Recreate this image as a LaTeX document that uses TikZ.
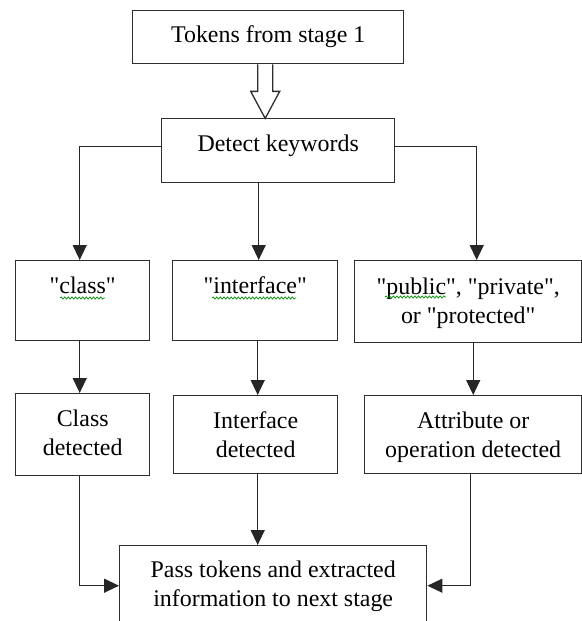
\documentclass[tikz,border=0pt]{standalone}
\usepackage{fontspec}
\setmainfont{Liberation Serif}[Ligatures=TeXOff]
\usetikzlibrary{arrows.meta,decorations.pathmorphing}

% a framed box given by its top-left and bottom-right corners (y grows downward)
\newcommand\flowbox[5]{%
  \node[box, minimum width={(#4-#2)*1bp}, minimum height={(#5-#3)*1bp}] (#1) at (#2,#3) {};}

\begin{document}
\begin{tikzpicture}[x=1bp,y=-1bp,
  box/.style={draw=black!82, line width=1.4bp, fill=white, inner sep=0pt, anchor=north west},
  txt/.style={anchor=base, align=center, inner sep=0pt, text=black,
              font=\fontsize{24}{29}\selectfont},
  flow/.style={draw=black!85, line width=1.3bp, -{Triangle[width=14bp,length=15bp]}},
  hollow/.style={draw=black!82, line width=1.3bp, fill=white, line join=miter},
  spell/.style={draw=green!55!black, line width=0.7bp, decorate,
                decoration={snake, amplitude=1.1bp, segment length=3.6bp}}]

\useasboundingbox (0,0) rectangle (582,621);
\clip (0,0) rectangle (582,621);

% boxes
\flowbox{src}{132}{10}{403}{63}
\flowbox{det}{161}{118}{394}{182}
\flowbox{cls}{15}{260}{149}{340}
\flowbox{ifc}{172}{260}{337}{340}
\flowbox{pub}{354}{260}{581}{342}
\flowbox{clsd}{15}{393}{149}{475}
\flowbox{ifcd}{173}{395}{337}{473}
\flowbox{attr}{364}{395}{581}{473}
\flowbox{fin}{119}{545}{426}{625}

% box texts; the base anchor sits on the last line, 29bp per line
\node[txt] (src-t)  at ([yshift=-33bp]src.north)  {Tokens from stage 1};
\node[txt] (det-t)  at ([yshift=-33bp]det.north)  {Detect keywords};
\node[txt] (cls-t)  at ([yshift=-33bp]cls.north)  {"class"};
\node[txt] (ifc-t)  at ([yshift=-33bp]ifc.north)  {"interface"};
\node[txt] (pub-t)  at ([yshift=-63bp]pub.north)  {"public", "private",\\or "protected"};
\node[txt] (clsd-t) at ([yshift=-62bp]clsd.north) {Class\\detected};
\node[txt] (ifcd-t) at ([yshift=-62bp]ifcd.north) {Interface\\detected};
\node[txt] (attr-t) at ([yshift=-62bp]attr.north) {Attribute or\\operation detected};
\node[txt] (fin-t)  at ([yshift=-61bp]fin.north)  {Pass tokens and extracted\\information to next stage};

% spell-checker underlines
\draw[spell] (60,298) -- (105,298);
\draw[spell] (212,298) -- (296,298);
\draw[spell] (385,297) -- (446,297);

% hollow block arrow from the first stage
\draw[hollow] ([xshift=-10.5bp]src.south) -- ++(0,27) -- ++(-7,0) -- ++(14.5,27)
  -- ++(14.5,-27) -- ++(-7,0) -- ++(0,-27);

% branches out of the keyword detector
\draw[flow] ([yshift=4bp]det.west) -| ([xshift=-3bp]cls.north);
\draw[flow] ([xshift=3.5bp]ifc.north |- det.south) -- ([xshift=3.5bp]ifc.north);
\draw[flow] ([yshift=4bp]det.east) -| ([xshift=8.5bp]pub.north);

% keyword to detection result
\draw[flow] ([xshift=-3bp]cls.south) -- ([xshift=-3bp]cls.south |- clsd.north);
\draw[flow] ([xshift=2.5bp]ifc.south) -- ([xshift=2.5bp]ifc.south |- ifcd.north);
\draw[flow] (attr.north |- pub.south) -- (attr.north);

% results into the last stage
\draw[flow] ([xshift=-3bp]clsd.south) |- (fin.west);
\draw[flow] ([xshift=2bp]ifcd.south) -- ([xshift=2bp]ifcd.south |- fin.north);
\draw[flow] ([xshift=-2.5bp]attr.south) |- (fin.east);
\end{tikzpicture}
\end{document}
